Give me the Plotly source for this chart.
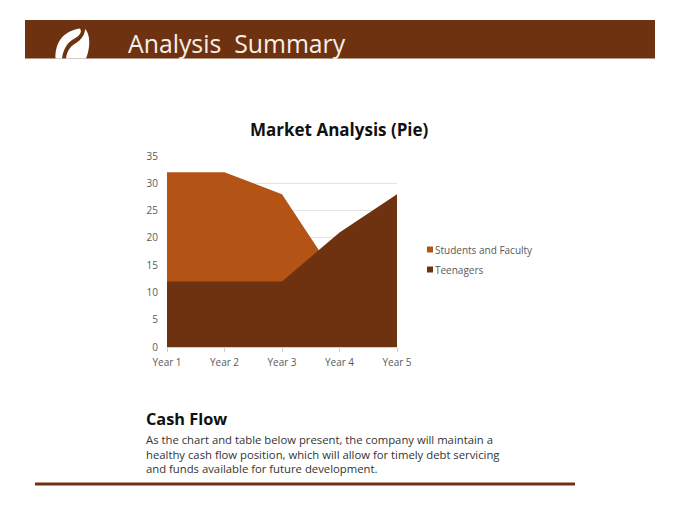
import plotly.graph_objects as go

categories = ["Year 1", "Year 2", "Year 3", "Year 4", "Year 5"]
students = [32, 32, 28, 12, 15]
teenagers = [12, 12, 12, 21, 28]
y_ticks = [0, 5, 10, 15, 20, 25, 30, 35]
series_names = ["Students and Faculty", "Teenagers"]
body_lines = ["As the chart and table below present, the company will maintain a",
              "healthy cash flow position, which will allow for timely debt servicing",
              "and funds available for future development."]

W, H = 680, 510
BROWN = "#6F3210"
ORANGE = "#B45316"
FONT = "Open Sans"
L, R, T, B = 167, 397, 156, 347


def px(x):
    return (x - L) / (R - L)


def py(y):
    return (B - y) / (B - T)


def path(cmds):
    out = []
    for c in cmds:
        if isinstance(c, str):
            out.append(c)
        else:
            out.append(f"{px(c[0]):.5f},{py(c[1]):.5f}")
    return " ".join(out)


def rect(x0, y0, x1, y1, color):
    return dict(type="rect", xref="paper", yref="paper", x0=px(x0), x1=px(x1), y0=py(y1), y1=py(y0),
                fillcolor=color, line_width=0, layer="below")


def label(text, x, y, size, color, anchor="left"):
    return dict(text=text, x=px(x), y=py(y), xref="paper", yref="paper", xanchor=anchor, yanchor="middle",
                align=anchor, showarrow=False, font=dict(family=FONT, size=size, color=color))


fig = go.Figure()
fig.add_trace(go.Scatter(x=categories, y=students, name=series_names[0], mode="none", fill="tozeroy",
                         fillcolor=ORANGE, showlegend=False, hoverinfo="skip"))
fig.add_trace(go.Scatter(x=categories, y=teenagers, name=series_names[1], mode="none", fill="tozeroy",
                         fillcolor=BROWN, showlegend=False, hoverinfo="skip"))

shapes = [
    rect(25, 20, 655, 58.5, BROWN),
    rect(35, 482.5, 575, 485.5, BROWN),
    rect(427, 246.5, 433, 252.5, ORANGE),
    rect(427, 266.5, 433, 272.5, BROWN),
    dict(type="path", xref="paper", yref="paper", fillcolor="white", line_width=0,
         path=path(["M", (55.5, 58.5), "C", (55, 44), (62, 31), (80, 28.5),
                    "C", (83, 33), (78, 37), (72, 40), "C", (66, 44), (63, 51), (62, 58.5), "Z"])),
    dict(type="path", xref="paper", yref="paper", fillcolor="white", line_width=0,
         path=path(["M", (66, 58.5), "C", (67, 50), (71, 46), (76, 43), "C", (81, 40), (85, 35), (85, 29),
                    "C", (90, 33), (91, 47), (86, 58.5), "Z"])),
]

annotations = [
    label("Analysis  Summary", 126, 43, 24.8, "#F6EFEA"),
    label("<b>Market Analysis (Pie)</b>", 339.5, 129.5, 17, "#111111", "center"),
    label("<b>Cash Flow</b>", 144, 419, 16.3, "#111111"),
    label(series_names[0], 433, 249.5, 10, "#595959"),
    label(series_names[1], 433, 269.5, 10, "#595959"),
    label("<br>".join(body_lines), 144, 453.5, 11.3, "#333333"),
]

fig.update_layout(
    width=W, height=H, autosize=False,
    margin=dict(l=L, r=W - R, t=T, b=H - B),
    paper_bgcolor="white", plot_bgcolor="white",
    font=dict(family=FONT, size=10, color="#595959"),
    shapes=shapes, annotations=annotations,
    showlegend=False,
    xaxis=dict(type="category", range=[0, 4], showgrid=False, showline=True, linecolor="#D0D0D0", linewidth=1,
               ticks="outside", ticklen=4, tickcolor="#D0D0D0", tickfont=dict(size=10, color="#595959"),
               ticklabelstandoff=2, zeroline=False),
    yaxis=dict(range=[0, 35], tickvals=y_ticks, showgrid=True, gridcolor="#E4E4E4", gridwidth=1, showline=False,
               ticks="", tickfont=dict(size=10, color="#595959"), ticklabelstandoff=8, zeroline=False),
)
fig.write_html("out.html", config=dict(displayModeBar=False),
               post_script="document.body.style.margin='0';")
